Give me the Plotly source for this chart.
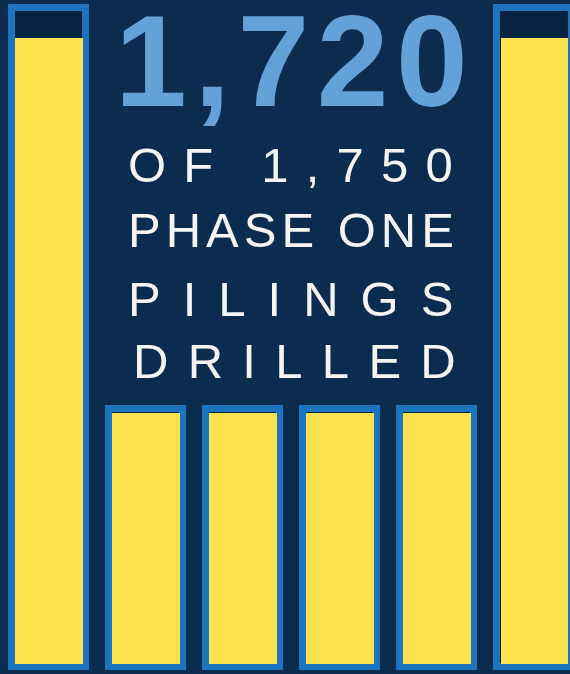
import plotly.graph_objects as go

# ---- data ----
piling_slots = [0, 1, 2, 3, 4, 5]
bar_capacity = [100, 39.1, 39.1, 39.1, 39.1, 100]     # outlined bar height
bar_filled = [95.4, 39.1, 39.1, 39.1, 39.1, 95.4]      # yellow (drilled) height
headline_value = "1,720"
caption_lines = ["OF 1,750", "PHASE ONE", "PILINGS", "DRILLED"]

# ---- styles ----
W, H = 570, 674
BG = "#0c2c4f"
INNER = "#082341"
BLUE = "#1c74bf"
YELLOW = "#fde24f"
NUM_BLUE = "#64a1d8"
LINE_W = 7
PX_PER_UNIT = 6.595
PX_PER_SLOT = 97.1
FONT = "Liberation Sans, Arial, sans-serif"

inset = (LINE_W / 2) / PX_PER_UNIT
fill_top = [min(f, c - inset) for f, c in zip(bar_filled, bar_capacity)]
fill_len = [t - inset for t in fill_top]

fig = go.Figure()
fig.add_trace(go.Bar(
    x=piling_slots, y=bar_capacity, width=74.5 / PX_PER_SLOT,
    marker=dict(color=INNER, line=dict(color=BLUE, width=LINE_W)),
    hoverinfo="skip",
))
fig.add_trace(go.Bar(
    x=piling_slots, y=fill_len, base=[inset] * len(piling_slots),
    width=67.5 / PX_PER_SLOT,
    marker=dict(color=YELLOW, line=dict(width=0)),
    hoverinfo="skip",
))

x0 = -48.75 / PX_PER_SLOT
y0 = -(H - 667) / PX_PER_UNIT
fig.update_layout(
    width=W, height=H,
    margin=dict(l=0, r=0, t=0, b=0),
    paper_bgcolor=BG, plot_bgcolor=BG,
    barmode="overlay", showlegend=False, bargap=0,
    xaxis=dict(range=[x0, x0 + W / PX_PER_SLOT], visible=False, fixedrange=True),
    yaxis=dict(range=[y0, y0 + H / PX_PER_UNIT], visible=False, fixedrange=True),
)

def px(x, y):
    return x / W, 1 - y / H

# headline number
ax, ay = px(115, 61)
fig.add_annotation(
    x=ax, y=ay, xref="paper", yref="paper", xanchor="left", yanchor="middle",
    text=f'<span style="letter-spacing:7.5px">{headline_value}</span>',
    showarrow=False, borderpad=0, borderwidth=0,
    font=dict(family=FONT, size=129, color=NUM_BLUE, weight=700),
)

# caption lines: (x origin, cap centre y, letter spacing)
caption_pos = [(127.6, 164.5, 17.2), (128, 229.5, 5.0), (128, 299.2, 22.0), (132.8, 361.5, 19.3)]
for line, (lx, ly, ls) in zip(caption_lines, caption_pos):
    cx, cy = px(lx, ly)
    fig.add_annotation(
        x=cx, y=cy, xref="paper", yref="paper", xanchor="left", yanchor="middle",
        text=f'<span style="letter-spacing:{ls}px">{line}</span>',
        showarrow=False, borderpad=0, borderwidth=0,
        font=dict(family=FONT, size=49, color="#f4f4f2"),
    )

fig.write_html(
    "out.html",
    config={"displayModeBar": False},
    post_script="document.body.style.margin='0';document.body.style.overflow='hidden';"
                "document.body.style.background='" + BG + "';",
)
